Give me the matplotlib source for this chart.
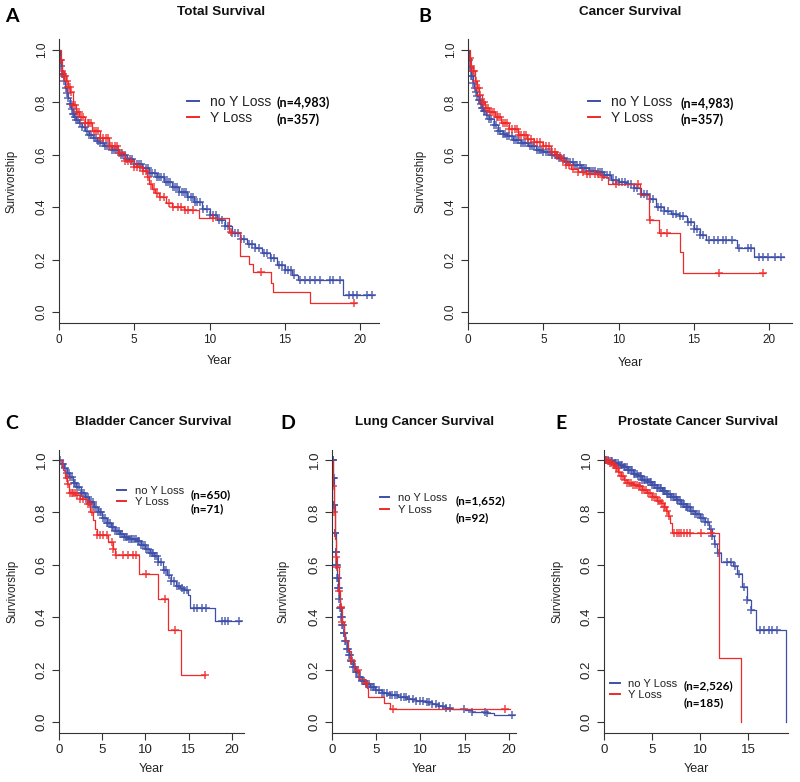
import numpy as np
import matplotlib
matplotlib.use('Agg')
import matplotlib.pyplot as plt

plt.rcParams['font.family'] = ['Liberation Sans', 'DejaVu Sans']

BLUE = '#3d4fa8'
RED = '#ee2a2a'
AXC = '#333333'

# ---------------- A: Total Survival ----------------
a_blue_t = [0, 0.05, 0.1, 0.2, 0.3, 0.4, 0.5, 0.6, 0.7, 0.8, 0.9, 1.0, 1.15, 1.3, 1.5, 1.75,
            2.0, 2.25, 2.5, 2.75, 3.0, 3.5, 4.0, 4.5, 5.0, 5.5, 6.0, 6.5, 7.0, 7.5, 8.0, 8.5,
            9.0, 9.5, 10.0, 10.5, 11.0, 11.5, 12.0, 12.5, 13.0, 13.5, 14.0, 14.5, 15.0, 15.5,
            15.9, 18.9, 20.9]
a_blue_s = [1.0, 0.96, 0.94, 0.91, 0.88, 0.855, 0.835, 0.815, 0.795, 0.775, 0.755, 0.745, 0.733,
            0.72, 0.705, 0.69, 0.676, 0.664, 0.653, 0.644, 0.635, 0.618, 0.6, 0.583, 0.566, 0.55,
            0.532, 0.515, 0.497, 0.478, 0.458, 0.44, 0.418, 0.395, 0.372, 0.352, 0.33, 0.3, 0.28,
            0.258, 0.243, 0.225, 0.205, 0.18, 0.16, 0.14, 0.123, 0.066, 0.066]
a_blue_cens = [0.05, 0.12, 0.2, 0.28, 0.36, 0.45, 0.53, 0.62, 0.7, 0.78, 0.86, 0.92, 0.98, 1.05,
               1.15, 1.25, 1.4, 1.55, 1.7, 1.85, 2.0, 2.15, 2.3, 2.45, 2.6, 2.75, 2.9, 3.05, 3.2,
               3.35, 3.5, 3.65, 3.8, 3.95, 4.1, 4.25, 4.4, 4.55, 4.7, 4.85, 5.0, 5.15, 5.3, 5.45,
               5.6, 5.75, 5.9, 6.05, 6.2, 6.35, 6.5, 6.65, 6.8, 6.95, 7.1, 7.25, 7.4, 7.55, 7.7,
               7.85, 8.0, 8.15, 8.3, 8.45, 8.6, 8.75, 8.9, 9.05, 9.2, 9.4, 9.6, 9.8, 10.0, 10.2,
               10.4, 10.6, 10.8, 11.0, 11.2, 11.5, 11.7, 11.9, 12.1, 12.3, 12.6, 12.8, 13.0, 13.3,
               13.6, 13.8, 14.1, 14.3, 14.6, 14.8, 15.0, 15.2, 15.4, 15.6, 16.0, 16.35, 16.7, 17.0,
               17.35, 18.0, 18.2, 18.7, 19.3, 19.55, 19.8, 20.45, 20.8]
a_red_t = [0, 0.1, 0.2, 0.3, 0.45, 0.6, 0.75, 0.9, 1.1, 1.35, 1.7, 2.2, 2.7, 3.3, 3.9, 4.4, 5.0,
           5.5, 5.85, 6.0, 6.2, 6.4, 6.65, 7.1, 7.5, 8.3, 9.3, 11.3, 12.0, 12.6, 12.9, 14.1,
           14.25, 16.7, 19.7]
a_red_s = [1.0, 0.96, 0.92, 0.9, 0.88, 0.86, 0.84, 0.79, 0.765, 0.745, 0.72, 0.69, 0.665, 0.632,
           0.605, 0.575, 0.555, 0.537, 0.517, 0.49, 0.468, 0.455, 0.44, 0.415, 0.4, 0.389, 0.36,
           0.304, 0.215, 0.183, 0.153, 0.112, 0.076, 0.036, 0.036]
a_red_cens = [0.1, 0.2, 0.3, 0.4, 0.5, 0.6, 0.7, 0.8, 0.95, 1.05, 1.2, 1.3, 1.45, 1.6, 1.75, 1.9,
              2.0, 2.15, 2.3, 2.45, 2.6, 2.75, 2.9, 3.1, 3.25, 3.4, 3.55, 3.7, 3.85, 4.0, 4.2,
              4.4, 4.6, 4.8, 5.0, 5.2, 5.4, 5.6, 5.75, 5.9, 6.1, 6.3, 6.5, 6.7, 7.0, 7.3, 7.6,
              7.9, 8.1, 8.4, 8.6, 8.9, 10.2, 11.4, 13.4, 19.6]

# ---------------- B: Cancer Survival ----------------
b_blue_t = [0, 0.05, 0.1, 0.2, 0.3, 0.4, 0.5, 0.6, 0.7, 0.8, 0.9, 1.0, 1.2, 1.4, 1.7, 2.0, 2.3,
            2.6, 3.0, 3.5, 4.0, 4.5, 5.0, 5.5, 6.0, 6.5, 7.0, 7.5, 8.0, 8.5, 9.0, 9.5, 10.0,
            10.5, 11.0, 11.5, 12.0, 12.5, 13.0, 13.5, 14.0, 14.5, 15.0, 15.4, 15.8, 17.85, 18.95,
            20.95]
b_blue_s = [1.0, 0.96, 0.93, 0.9, 0.875, 0.855, 0.84, 0.825, 0.81, 0.795, 0.78, 0.768, 0.75,
            0.735, 0.712, 0.69, 0.68, 0.67, 0.658, 0.645, 0.632, 0.62, 0.61, 0.598, 0.587, 0.572,
            0.56, 0.548, 0.538, 0.533, 0.522, 0.505, 0.497, 0.49, 0.475, 0.45, 0.43, 0.4, 0.385,
            0.375, 0.366, 0.345, 0.318, 0.295, 0.273, 0.245, 0.21, 0.21]
b_blue_cens = [0.05, 0.12, 0.2, 0.28, 0.36, 0.45, 0.53, 0.62, 0.7, 0.78, 0.86, 0.92, 0.98, 1.05,
               1.15, 1.25, 1.4, 1.55, 1.7, 1.85, 2.0, 2.15, 2.3, 2.45, 2.6, 2.75, 2.9, 3.05, 3.2,
               3.35, 3.5, 3.65, 3.8, 3.95, 4.1, 4.25, 4.4, 4.55, 4.7, 4.85, 5.0, 5.15, 5.3, 5.45,
               5.6, 5.75, 5.9, 6.05, 6.2, 6.35, 6.5, 6.65, 6.8, 6.95, 7.1, 7.25, 7.4, 7.55, 7.7,
               7.85, 8.0, 8.15, 8.3, 8.45, 8.6, 8.75, 8.9, 9.05, 9.2, 9.4, 9.6, 9.8, 10.0, 10.2,
               10.4, 10.6, 10.8, 11.0, 11.2, 11.5, 11.7, 11.9, 12.1, 12.3, 12.6, 12.8, 13.0, 13.3,
               13.6, 13.8, 14.1, 14.3, 14.6, 14.8, 15.0, 15.2, 15.4, 15.6, 16.0, 16.3, 16.6, 16.9,
               17.1, 17.5, 18.0, 18.6, 18.8, 19.3, 19.6, 19.9, 20.4, 20.8]
b_red_t = [0, 0.1, 0.2, 0.3, 0.45, 0.6, 0.75, 0.9, 1.1, 1.4, 1.8, 2.2, 2.7, 3.3, 3.9, 4.4, 5.0,
           5.5, 5.9, 6.2, 6.5, 6.85, 7.3, 7.8, 8.9, 9.3, 11.43, 11.98, 12.65, 14.09, 14.26, 19.73]
b_red_s = [1.0, 0.97, 0.94, 0.92, 0.88, 0.855, 0.83, 0.8, 0.78, 0.765, 0.745, 0.72, 0.698, 0.675,
           0.66, 0.65, 0.632, 0.612, 0.595, 0.58, 0.562, 0.545, 0.535, 0.528, 0.515, 0.487,
           0.447, 0.351, 0.303, 0.23, 0.148, 0.148]
b_red_cens = [0.1, 0.2, 0.3, 0.4, 0.5, 0.6, 0.7, 0.8, 0.95, 1.05, 1.2, 1.3, 1.45, 1.6, 1.75, 1.9,
              2.0, 2.15, 2.3, 2.45, 2.6, 2.75, 2.9, 3.1, 3.25, 3.4, 3.55, 3.7, 3.85, 4.0, 4.2,
              4.4, 4.6, 4.8, 5.0, 5.2, 5.4, 5.6, 5.75, 5.9, 6.1, 6.3, 6.5, 6.7, 7.0, 7.3, 7.6,
              7.9, 8.1, 8.4, 8.6, 8.9, 9.8, 11.3, 12.05, 12.8, 13.2, 16.68, 19.6]

# ---------------- C: Bladder Cancer Survival ----------------
c_blue_t = [0, 0.3, 0.6, 0.9, 1.2, 1.6, 2.0, 2.5, 3.0, 3.5, 4.0, 4.5, 5.0, 5.5, 6.0, 6.5, 7.0,
            7.5, 8.0, 8.5, 9.0, 9.5, 10.0, 10.5, 11.0, 11.5, 12.0, 12.5, 13.0, 13.5, 14.0, 14.5,
            14.9, 15.2, 18.1, 21.1]
c_blue_s = [1.0, 0.985, 0.97, 0.952, 0.935, 0.912, 0.895, 0.875, 0.858, 0.84, 0.82, 0.8, 0.778,
            0.76, 0.745, 0.73, 0.717, 0.707, 0.7, 0.698, 0.69, 0.675, 0.66, 0.645, 0.635, 0.61,
            0.58, 0.56, 0.54, 0.52, 0.51, 0.505, 0.485, 0.436, 0.387, 0.387]
c_blue_cens = [0.1, 0.3, 0.5, 0.7, 0.9, 1.1, 1.3, 1.5, 1.7, 1.9, 2.1, 2.3, 2.5, 2.7, 2.9, 3.1,
               3.3, 3.5, 3.7, 3.9, 4.1, 4.3, 4.5, 4.7, 4.9, 5.1, 5.3, 5.5, 5.7, 5.9, 6.1, 6.3,
               6.5, 6.7, 6.9, 7.1, 7.3, 7.5, 7.7, 7.9, 8.1, 8.3, 8.5, 8.7, 8.9, 9.1, 9.3, 9.5,
               9.7, 9.9, 10.1, 10.3, 10.5, 10.7, 10.9, 11.1, 11.3, 11.5, 11.8, 12.1, 12.4, 12.7,
               13.0, 13.3, 13.6, 13.9, 14.2, 14.5, 14.8, 15.6, 16.0, 16.5, 17.0, 18.8, 19.2,
               19.5, 20.8]
c_red_t = [0, 0.3, 0.5, 0.7, 0.9, 1.1, 1.9, 2.4, 3.2, 3.6, 3.9, 4.15, 4.35, 5.7, 6.27, 6.46,
           9.27, 11.46, 12.6, 14.15, 16.9]
c_red_s = [1.0, 0.985, 0.96, 0.93, 0.91, 0.875, 0.865, 0.85, 0.832, 0.8, 0.77, 0.737, 0.712,
           0.686, 0.661, 0.638, 0.566, 0.47, 0.353, 0.178, 0.178]
c_red_cens = [0.88, 1.08, 1.27, 1.46, 1.65, 1.85, 2.04, 2.42, 2.8, 3.38, 3.58, 3.77, 4.35, 4.73,
              5.12, 5.5, 6.08, 6.27, 6.65, 7.42, 8.0, 8.58, 8.96, 10.1, 12.3, 13.46, 16.9]

# ---------------- D: Lung Cancer Survival ----------------
d_blue_t = [0, 0.1, 0.2, 0.3, 0.4, 0.5, 0.6, 0.7, 0.8, 0.9, 1.0, 1.15, 1.3, 1.5, 1.7, 1.9, 2.1,
            2.35, 2.65, 3.0, 3.4, 3.8, 4.3, 4.9, 5.6, 6.5, 7.5, 8.5, 9.5, 10.5, 11.3, 12.0, 12.8,
            13.6, 15.0, 15.8, 17.5, 18.3, 20.6]
d_blue_s = [1.0, 0.93, 0.83, 0.72, 0.65, 0.6, 0.55, 0.51, 0.47, 0.435, 0.4, 0.37, 0.34, 0.31,
            0.28, 0.255, 0.232, 0.21, 0.19, 0.172, 0.158, 0.145, 0.135, 0.124, 0.112, 0.102,
            0.094, 0.086, 0.08, 0.075, 0.07, 0.062, 0.054, 0.049, 0.045, 0.037, 0.034, 0.025,
            0.025]
d_blue_cens = [0.03, 0.06, 0.09, 0.12, 0.15, 0.18, 0.22, 0.26, 0.3, 0.35, 0.4, 0.45, 0.5, 0.55,
               0.6, 0.66, 0.72, 0.78, 0.84, 0.9, 0.97, 1.04, 1.11, 1.18, 1.25, 1.33, 1.41, 1.5,
               1.6, 1.7, 1.8, 1.9, 2.0, 2.1, 2.25, 2.4, 2.55, 2.7, 2.85, 3.0, 3.2, 3.4, 3.6, 3.8,
               4.0, 4.2, 4.4, 4.6, 4.8, 5.0, 5.3, 5.6, 5.9, 6.2, 6.5, 6.8, 7.1, 7.4, 7.8, 8.1,
               8.4, 8.7, 9.1, 9.5, 9.9, 10.3, 10.7, 11.0, 11.3, 11.7, 12.1, 12.5, 12.9, 13.3,
               14.9, 15.8, 17.3, 17.5, 20.3]
d_red_t = [0, 0.1, 0.2, 0.3, 0.45, 0.6, 0.75, 0.9, 1.1, 1.3, 1.5, 1.8, 2.1, 2.5, 3.0, 3.7, 4.0,
           4.1, 5.85, 6.6, 20.1]
d_red_s = [1.0, 0.9, 0.8, 0.7, 0.63, 0.59, 0.5, 0.44, 0.38, 0.34, 0.31, 0.27, 0.235, 0.2, 0.165,
           0.15, 0.128, 0.096, 0.071, 0.048, 0.048]
d_red_cens = [0.15, 0.25, 0.45, 0.62, 0.75, 1.0, 1.15, 2.15, 2.95, 3.8, 6.95, 19.6]

# ---------------- E: Prostate Cancer Survival ----------------
e_blue_t = [0, 0.5, 1.0, 1.5, 2.0, 2.5, 3.0, 3.5, 4.0, 4.5, 5.0, 5.5, 6.0, 6.5, 7.0, 7.5, 8.0,
            8.5, 9.0, 9.5, 10.0, 10.5, 10.9, 11.2, 11.5, 11.8, 12.2, 13.4, 13.9, 14.4, 14.9,
            15.3, 15.8, 18.92]
e_blue_s = [1.0, 0.997, 0.99, 0.982, 0.972, 0.96, 0.948, 0.937, 0.925, 0.915, 0.904, 0.893,
            0.883, 0.872, 0.86, 0.846, 0.832, 0.82, 0.806, 0.795, 0.78, 0.762, 0.735, 0.71, 0.68,
            0.645, 0.61, 0.595, 0.565, 0.515, 0.465, 0.427, 0.352, 0.0]
e_blue_cens = [0.1, 0.25, 0.4, 0.55, 0.7, 0.85, 1.0, 1.15, 1.3, 1.45, 1.6, 1.75, 1.9, 2.05, 2.2,
               2.35, 2.5, 2.65, 2.8, 2.95, 3.1, 3.25, 3.4, 3.55, 3.7, 3.85, 4.0, 4.15, 4.3, 4.45,
               4.6, 4.75, 4.9, 5.05, 5.2, 5.35, 5.5, 5.65, 5.8, 5.95, 6.1, 6.25, 6.4, 6.55, 6.7,
               6.85, 7.0, 7.15, 7.3, 7.45, 7.6, 7.75, 7.9, 8.05, 8.2, 8.35, 8.5, 8.65, 8.8, 8.95,
               9.1, 9.3, 9.5, 9.7, 9.9, 10.1, 10.3, 10.5, 10.8, 11.1, 11.3, 11.6, 11.9, 12.85,
               13.2, 13.7, 14.06, 14.6, 14.9, 15.3, 16.3, 16.7, 17.2, 17.5, 18.05]
e_red_t = [0, 0.3, 0.6, 0.9, 1.2, 1.5, 1.8, 2.1, 2.4, 3.0, 3.5, 4.0, 4.5, 5.0, 5.5, 5.9, 6.2,
           6.45, 6.7, 6.9, 7.05, 11.98, 14.24]
e_red_s = [1.0, 0.995, 0.99, 0.982, 0.97, 0.955, 0.94, 0.925, 0.912, 0.905, 0.9, 0.887, 0.874,
           0.858, 0.845, 0.835, 0.82, 0.805, 0.785, 0.76, 0.723, 0.243, 0.0]
e_red_cens = [0.2, 0.4, 0.6, 0.8, 1.0, 1.2, 1.4, 1.6, 1.8, 2.0, 2.2, 2.4, 2.6, 2.8, 3.0, 3.2,
              3.4, 3.6, 3.8, 4.0, 4.2, 4.4, 4.6, 4.8, 5.0, 5.2, 5.4, 5.6, 5.8, 6.0, 6.2, 6.4,
              6.6, 6.8, 7.3, 7.57, 7.8, 8.05, 8.33, 8.6, 8.96, 10.07, 11.1]

titles = ['Total Survival', 'Cancer Survival', 'Bladder Cancer Survival',
          'Lung Cancer Survival', 'Prostate Cancer Survival']
letters = ['A', 'B', 'C', 'D', 'E']
n_blue = ['(n=4,983)', '(n=4,983)', '(n=650)', '(n=1,652)', '(n=2,526)']
n_red = ['(n=357)', '(n=357)', '(n=71)', '(n=92)', '(n=185)']

W, H = 800, 782
fig = plt.figure(figsize=(W / 100, H / 100), dpi=100)


def px_axes(l, r, top, bot):
    return fig.add_axes([l / W, 1 - bot / H, (r - l) / W, (bot - top) / H])


def km(ax, t, s, cens, color, label):
    t = np.asarray(t, float)
    s = np.asarray(s, float)
    ax.step(t, s, where='post', color=color, lw=0.9, label=label)
    c = np.asarray(cens, float)
    idx = np.searchsorted(t, c, side='right') - 1
    ax.plot(c, s[idx], ls='none', marker='+', ms=6, mew=1.2, color=color, alpha=0.8)


panels = [
    dict(box=(59, 379, 39.5, 322.5), xmax=21.26, xt=[0, 5, 10, 15, 20],
         blue=(a_blue_t, a_blue_s, a_blue_cens), red=(a_red_t, a_red_s, a_red_cens),
         leg=(0.40, 0.804), legfs=10, cnt=(0.681, 0.776, 0.716), ylab=-0.147, xlab=-0.136,
         tfs=8.5, title=(221, 12), letter=(12, 16)),
    dict(box=(468, 792, 39.5, 322.5), xmax=21.5, xt=[0, 5, 10, 15, 20],
         blue=(b_blue_t, b_blue_s, b_blue_cens), red=(b_red_t, b_red_s, b_red_cens),
         leg=(0.371, 0.804), legfs=10, cnt=(0.657, 0.773, 0.716), ylab=-0.148, xlab=-0.143,
         tfs=8.5, title=(630, 12), letter=(425, 16)),
    dict(box=(59, 244, 449.5, 732.5), xmax=21.4, xt=[0, 5, 10, 15, 20],
         blue=(c_blue_t, c_blue_s, c_blue_cens), red=(c_red_t, c_red_s, c_red_cens),
         leg=(0.312, 0.871), legfs=8, cnt=(0.714, 0.839, 0.79), ylab=-0.254, xlab=-0.129,
         tfs=9.5, title=(153, 422), letter=(12, 423)),
    dict(box=(332, 516, 449.5, 732.5), xmax=20.8, xt=[0, 5, 10, 15, 20],
         blue=(d_blue_t, d_blue_s, d_blue_cens), red=(d_red_t, d_red_s, d_red_cens),
         leg=(0.261, 0.845), legfs=8, cnt=(0.674, 0.818, 0.759), ylab=-0.266, xlab=-0.129,
         tfs=9.5, title=(425, 422), letter=(288, 423)),
    dict(box=(604, 788, 449.5, 732.5), xmax=19.17, xt=[0, 5, 10, 15],
         blue=(e_blue_t, e_blue_s, e_blue_cens), red=(e_red_t, e_red_s, e_red_cens),
         leg=(0.033, 0.189), legfs=8, cnt=(0.431, 0.164, 0.105), ylab=-0.255, xlab=-0.129,
         tfs=9.5, title=(698, 422), letter=(561, 423)),
]

for i, p in enumerate(panels):
    ax = px_axes(*p['box'])
    km(ax, *p['blue'], BLUE, 'no Y Loss')
    km(ax, *p['red'], RED, 'Y Loss')
    ax.set_xlim(0, p['xmax'])
    ax.set_ylim(-0.04, 1.04)
    ax.set_xticks(p['xt'])
    ax.set_yticks([0, 0.2, 0.4, 0.6, 0.8, 1.0])
    ax.set_yticklabels(['0.0', '0.2', '0.4', '0.6', '0.8', '1.0'])
    for sp in ['top', 'right']:
        ax.spines[sp].set_visible(False)
    for sp in ['left', 'bottom']:
        ax.spines[sp].set_color(AXC)
        ax.spines[sp].set_linewidth(0.8)
    ax.tick_params(direction='out', length=5, width=0.8, color=AXC, labelcolor='#222222',
                   labelsize=p['tfs'], pad=3)
    for lab in ax.get_yticklabels():
        lab.set_rotation(90)
        lab.set_va('center')
    ax.text(p['ylab'], 0.5, 'Survivorship', transform=ax.transAxes, rotation=90,
            ha='center', va='center', fontsize=8.3, color='#222222')
    ax.text(0.5, p['xlab'], 'Year', transform=ax.transAxes, ha='center', va='center',
            fontsize=9, color='#222222')
    leg = ax.legend(loc='upper left', bbox_to_anchor=p['leg'], frameon=False,
                    fontsize=p['legfs'], handlelength=0.85, handletextpad=0.8,
                    borderpad=0, borderaxespad=0, labelspacing=0.12)
    for h in leg.legend_handles:
        h.set_linewidth(1.4)
    for txt in leg.get_texts():
        txt.set_color('#222222')
    cx, cy1, cy2 = p['cnt']
    cfs = 9 if p['legfs'] == 10 else 8.5
    ax.text(cx, cy1, n_blue[i], transform=ax.transAxes, ha='left', va='center',
            fontsize=cfs, fontweight='bold', family=['Lato', 'DejaVu Sans'])
    ax.text(cx, cy2, n_red[i], transform=ax.transAxes, ha='left', va='center',
            fontsize=cfs, fontweight='bold', family=['Lato', 'DejaVu Sans'])
    tx, ty = p['title']
    fig.text(tx / W, 1 - ty / H, titles[i], ha='center', va='center', fontsize=9.7,
             fontweight='bold', color='#111111')
    lx, ly = p['letter']
    fig.text(lx / W, 1 - ly / H, letters[i], ha='center', va='center', fontsize=14,
             fontweight='bold', family=['Lato', 'DejaVu Sans'])

fig.savefig('out.png', dpi=100)
